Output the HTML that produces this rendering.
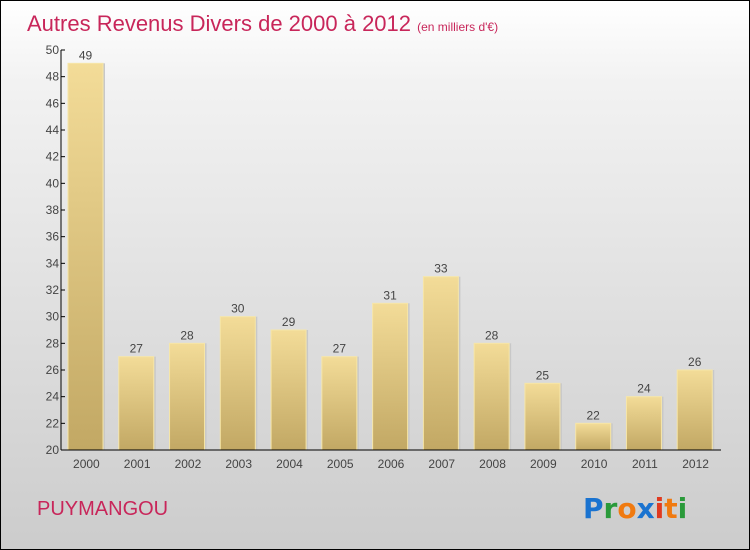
<!DOCTYPE html>
<html><head><meta charset="utf-8"><style>
body{margin:0;}
#wrap{position:relative;width:748px;height:548px;border:1px solid #000;background:linear-gradient(#ffffff,#f2f2f2 15%,#cccccc);font-family:"Liberation Sans",sans-serif;overflow:hidden}
</style></head><body>
<div id="wrap">
<svg id="chart" width="748" height="548">
<defs>
<linearGradient id="bg" x1="0" y1="0" x2="0" y2="1"><stop offset="0" stop-color="#f3dc98"/><stop offset="1" stop-color="#c2a864"/></linearGradient>
</defs>
<text x="26" y="30" font-size="22" fill="#c8265a">Autres Revenus Divers de 2000 à 2012 <tspan font-size="12">(en milliers d'€)</tspan></text>
<g id="bars"></g>
<g id="axes"></g>
<text x="36" y="514" font-size="20" fill="#c8265a">PUYMANGOU</text>
<g font-size="28" font-weight="bold" font-family="'DejaVu Sans',sans-serif">
<text x="582" y="517"><tspan fill="#1a73d0">P</tspan><tspan fill="#2a9a3a">r</tspan><tspan fill="#f07a10">o</tspan><tspan fill="#1a73d0">x</tspan><tspan fill="#e03a20">i</tspan><tspan fill="#f07a10">t</tspan><tspan fill="#2a9a3a">i</tspan></text>
</g>
</svg>
</div>
<script>
const categories=["2000","2001","2002","2003","2004","2005","2006","2007","2008","2009","2010","2011","2012"];
const values=[49,27,28,30,29,27,31,33,28,25,22,24,26];
const yTicks=[20,22,24,26,28,30,32,34,36,38,40,42,44,46,48,50];
const NS="http://www.w3.org/2000/svg";
const x0=60,x1=720,yTop=49,yBot=449,vMin=20,vMax=50;
const band=(x1-x0)/categories.length;
function y(v){return yBot-(v-vMin)/(vMax-vMin)*(yBot-yTop);}
function mk(t,a,p){const e=document.createElementNS(NS,t);for(const k in a)e.setAttribute(k,a[k]);p.appendChild(e);return e;}
const bars=document.getElementById('bars'),axes=document.getElementById('axes');
categories.forEach((c,i)=>{
 const bx=x0+i*band+7,bw=35,top=y(values[i]);
 const r=mk('rect',{x:bx+2,y:top,width:bw,height:yBot-top,fill:'#c8c8c8'},bars);
 
 
 const b=mk('rect',{x:bx,y:top,width:bw,height:yBot-top,fill:'url(#bg)',stroke:'#f6e6a8','stroke-width':1},bars);
 
 
 const t=mk('text',{x:bx+bw/2,y:top-4,'text-anchor':'middle','font-size':12,fill:'#444'},bars);
 t.textContent=values[i];
 
 
 const xl=mk('text',{x:x0+i*band+band/2,y:467,'text-anchor':'middle','font-size':12,fill:'#444'},axes);
 xl.textContent=c;
 
 
});
const ya=mk('line',{x1:x0,y1:yTop,x2:x0,y2:yBot,stroke:'#000'},axes);


const xa=mk('line',{x1:x0,y1:yBot,x2:x1,y2:yBot,stroke:'#000'},axes);


yTicks.forEach(v=>{
 mk('line',{x1:x0,y1:y(v),x2:x0+4,y2:y(v),stroke:'#000'},axes);
 const t=mk('text',{x:x0-2,y:y(v)+4,'text-anchor':'end','font-size':12,fill:'#444'},axes);
 t.textContent=v;
 
 
});
</script>
</body></html>
